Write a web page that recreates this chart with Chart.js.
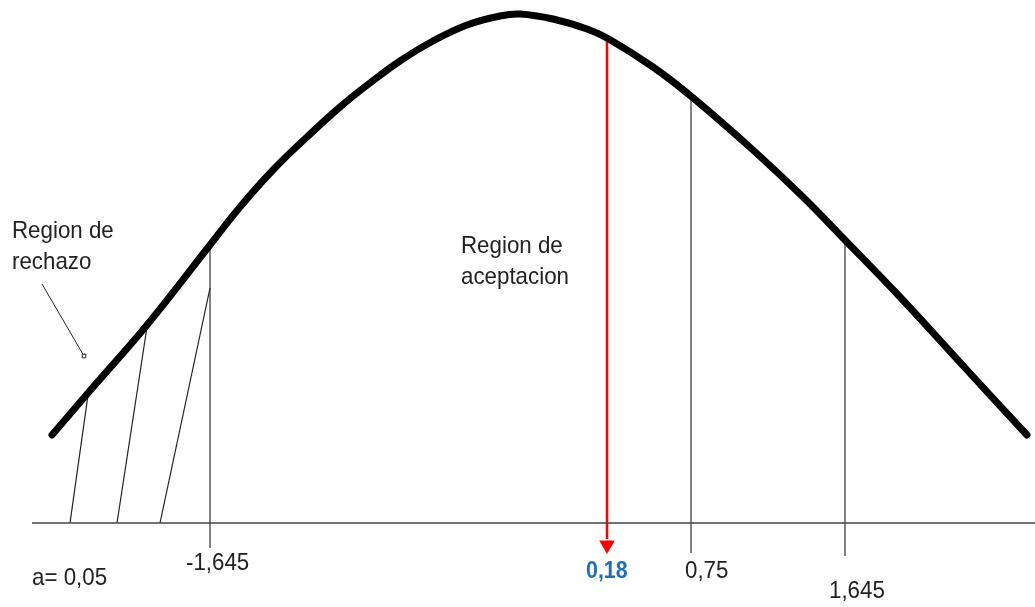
<!DOCTYPE html>
<html>
<head>
<meta charset="utf-8">
<script src="https://cdn.jsdelivr.net/npm/chart.js@4/dist/chart.umd.min.js"></script>
<style>
  body { margin: 0; background: #fff; }
  #grafico { display: block; }
</style>
</head>
<body>
<canvas id="grafico" width="1035" height="607"></canvas>
<script>
// curve (x = horizontal position, y = height above bottom edge)
const curveX = [52, 88, 147, 210, 240, 273, 307, 340, 370, 400, 433, 467, 500, 520, 553, 587, 607, 653, 692, 753, 803, 843, 900, 967, 1027]
const curveY = [172, 214, 282, 362, 400, 437, 470, 500, 524, 546, 566, 582, 591, 593, 588, 578, 569, 540, 510, 457, 410, 369, 310, 237, 172]

// baseline
const axisX = [32, 1035]
const axisLevel = 84

// vertical marks: x, top height, bottom height
const markX = [210, 691, 845]
const markTop = [362, 510, 367]
const markBottom = [59, 54, 51]

// hatch lines in the rejection region
const hatchBottomX = [70, 117, 160]
const hatchTopX = [88, 147, 210]
const hatchTopY = [212, 280, 319]

// red arrow at the test value
const arrowX = 607
const arrowTop = 567
const arrowTip = 54

// pointer from "Region de rechazo"
const pointerX = [42, 84]
const pointerY = [323, 251]

// texts
const textLabels = ['Region de', 'rechazo', 'Region de', 'aceptacion', 'a= 0,05', '-1,645', '0,18', '0,75', '1,645']
const textX = [12, 12, 461, 461, 32, 186, 586, 685, 829]
const textY = [376, 345, 361, 330, 29, 44, 35, 36, 16]

const canvas = document.getElementById('grafico')

function pts(xs, ys){
    return xs.map((x, i) => ({x: x, y: ys[i]}))
}

let datasets = []

datasets.push({
    data: pts(curveX, curveY),
    showLine: true,
    borderColor: '#000',
    borderWidth: 7,
    borderCapStyle: 'round',
    borderJoinStyle: 'round',
    tension: 0.4,
    pointRadius: 0
})

datasets.push({
    data: pts(axisX, [axisLevel, axisLevel]),
    showLine: true,
    borderColor: '#444',
    borderWidth: 1.5,
    pointRadius: 0
})

for(let i = 0; i < markX.length; i++){
    datasets.push({
        data: pts([markX[i], markX[i]], [markTop[i], markBottom[i]]),
        showLine: true,
        borderColor: '#333',
        borderWidth: 1.2,
        pointRadius: 0
    })
}

for(let i = 0; i < hatchBottomX.length; i++){
    datasets.push({
        data: pts([hatchBottomX[i], hatchTopX[i]], [axisLevel, hatchTopY[i]]),
        showLine: true,
        borderColor: '#222',
        borderWidth: 1.2,
        pointRadius: 0
    })
}

datasets.push({
    data: pts(pointerX, pointerY),
    showLine: true,
    borderColor: '#222',
    borderWidth: 1,
    pointRadius: [0, 2.5],
    pointStyle: 'rect',
    pointBackgroundColor: '#fff',
    pointBorderColor: '#222',
    pointBorderWidth: 1
})

datasets.push({
    data: pts([arrowX, arrowX], [arrowTop, arrowTip + 14]),
    showLine: true,
    borderColor: '#ff0000',
    borderWidth: 2.5,
    pointRadius: 0
})
datasets.push({
    data: [{x: arrowX, y: arrowTip + 8}],
    showLine: false,
    pointStyle: 'triangle',
    rotation: 180,
    pointRadius: 9,
    pointBackgroundColor: '#ff0000',
    pointBorderColor: '#ff0000',
    pointBorderWidth: 0
})

// labels drawn slightly condensed, like the original narrow font
const textPlugin = {
    id: 'texts',
    afterDatasetsDraw(chart){
        const c = chart.ctx
        const xs = chart.scales.x
        const ys = chart.scales.y
        c.save()
        c.textBaseline = 'middle'
        c.textAlign = 'left'
        textLabels.forEach((t, i) => {
            if(t === '0,18'){
                c.font = 'bold 23px "Liberation Sans", Arial, sans-serif'
                c.fillStyle = '#1f6fbf'
            } else {
                c.font = '24px "Liberation Sans", Arial, sans-serif'
                c.fillStyle = '#222'
            }
            const px = xs.getPixelForValue(textX[i])
            const py = ys.getPixelForValue(textY[i])
            c.save()
            c.translate(px, py)
            c.scale(0.93, 1)
            c.fillText(t, 0, 0)
            c.restore()
        })
        c.restore()
    }
}

new Chart(canvas, {
    type: 'scatter',
    data: { datasets: datasets },
    options: {
        responsive: false,
        animation: false,
        layout: { padding: 0, autoPadding: false },
        plugins: { legend: { display: false }, tooltip: { enabled: false } },
        scales: {
            x: { type: 'linear', min: 0, max: 1035, display: false },
            y: { type: 'linear', min: 0, max: 607, display: false }
        }
    },
    plugins: [textPlugin]
})
</script>
</body>
</html>
